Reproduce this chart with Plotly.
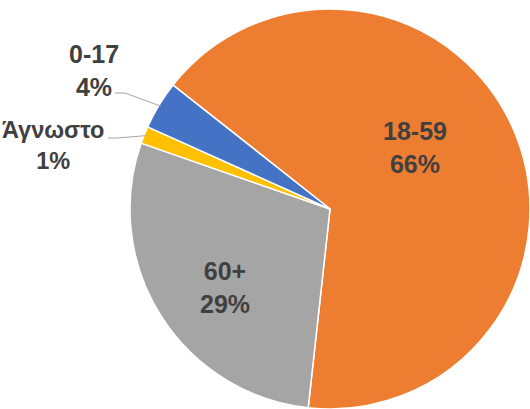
import math
import plotly.graph_objects as go

labels = ["18-59", "60+", "Άγνωστο", "0-17"]
values = [66.1, 28.6, 1.4, 3.9]
colors = ["#ED7D31", "#A5A5A5", "#FFC000", "#4472C4"]

W, H = 530, 409
CX, CY, R = 330, 209, 200
ROT = -51.7  # start angle of first slice, clockwise from 12 o'clock

total = sum(values)
TXT = "#404040"
FONT = "Liberation Sans, Arial, sans-serif"

fig = go.Figure(go.Pie(
    labels=labels, values=values, sort=False, direction="clockwise",
    rotation=ROT,
    marker=dict(colors=colors, line=dict(color="white", width=1.5)),
    textinfo="none",
    hoverinfo="none",
    domain=dict(x=[(CX - R) / W, (CX + R) / W], y=[(H - CY - R) / H, (H - CY + R) / H]),
    showlegend=False,
))

# label text centers (pixels), font size and optional leader elbow points
label_pos = {
    "18-59": (415, 147, 25, None),
    "60+": (225, 287, 25, None),
    "0-17": (94, 71, 25, ((115, 93), (125, 93))),
    "Άγνωστο": (53, 145, 23.5, ((108, 138), (117, 138))),
}

def px(x):
    return x / W

def py(y):
    return 1 - y / H

cum = 0
annotations = []
shapes = []
for lab, v in zip(labels, values):
    mid = ROT + (cum + v / 2) / total * 360
    cum += v
    tx, ty, fs, leader = label_pos[lab]
    pct = round(v / total * 100)
    annotations.append(dict(
        x=px(tx), y=py(ty), xref="paper", yref="paper", showarrow=False,
        text=f"{lab}<br>{pct}%", align="center", xanchor="center", yanchor="middle",
        font=dict(family=FONT, size=fs, color=TXT, weight="bold"),
    ))
    if leader:
        a = math.radians(mid)
        ex = CX + R * 0.99 * math.sin(a)
        ey = CY - R * 0.99 * math.cos(a)
        p0, p1 = leader
        shapes.append(dict(
            type="path", xref="paper", yref="paper",
            path=f"M {px(p0[0])} {py(p0[1])} L {px(p1[0])} {py(p1[1])} L {px(ex)} {py(ey)}",
            line=dict(color="#A6A6A6", width=1),
        ))

fig.update_layout(
    width=W, height=H, margin=dict(l=0, r=0, t=0, b=0),
    paper_bgcolor="white", plot_bgcolor="white",
    annotations=annotations, shapes=shapes,
)
fig.write_html("out.html", config={"displayModeBar": False},
               post_script="document.body.style.margin='0';")
